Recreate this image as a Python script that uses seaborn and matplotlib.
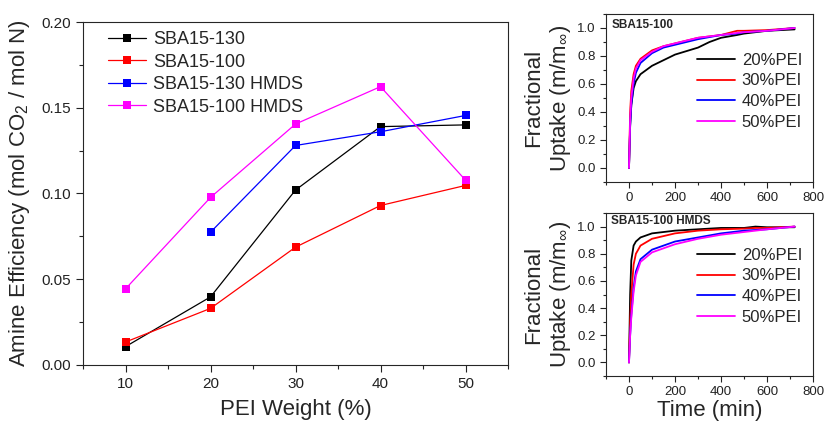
import pandas as pd
import matplotlib
matplotlib.use("Agg")
import matplotlib.pyplot as plt
from matplotlib.ticker import MultipleLocator
import seaborn as sns

# -----------------------------
# Data
# -----------------------------
pei_weight = [10, 20, 30, 40, 50]
sba130 = [0.0107, 0.0397, 0.102, 0.139, 0.140]
sba100 = [0.0134, 0.033, 0.0687, 0.093, 0.1047]
sba130_hmds = [None, 0.0774, 0.128, 0.136, 0.1455]
sba100_hmds = [0.0444, 0.0977, 0.1405, 0.1623, 0.1078]
series_names = ["SBA15-130", "SBA15-100", "SBA15-130 HMDS", "SBA15-100 HMDS"]
series_colors = ["#000000", "#ff0000", "#0000ff", "#ff00ff"]

pei_labels = ["20%PEI", "30%PEI", "40%PEI", "50%PEI"]

# SBA15-100 uptake curves
t_top = [0, 5, 10, 20, 30, 50, 100, 150, 200, 300, 350, 400, 470, 500, 600, 720]
up_top_20 = [0, 0.30, 0.45, 0.57, 0.62, 0.67, 0.73, 0.77, 0.81, 0.86, 0.90, 0.93, 0.95, 0.96, 0.98, 0.99]
up_top_30 = [0, 0.40, 0.55, 0.67, 0.73, 0.78, 0.84, 0.87, 0.89, 0.93, 0.94, 0.95, 0.98, 0.98, 0.985, 1.0]
up_top_40 = [0, 0.30, 0.45, 0.60, 0.68, 0.75, 0.82, 0.86, 0.88, 0.92, 0.935, 0.95, 0.96, 0.97, 0.98, 1.0]
up_top_50 = [0, 0.35, 0.50, 0.64, 0.71, 0.77, 0.83, 0.87, 0.89, 0.93, 0.94, 0.95, 0.965, 0.97, 0.98, 1.0]

# SBA15-100 HMDS uptake curves
t_bot = [0, 5, 10, 20, 30, 50, 100, 200, 300, 400, 500, 550, 600, 720]
up_bot_20 = [0, 0.50, 0.75, 0.86, 0.89, 0.92, 0.95, 0.97, 0.98, 0.99, 0.99, 1.0, 0.995, 0.995]
up_bot_30 = [0, 0.30, 0.50, 0.72, 0.80, 0.86, 0.91, 0.95, 0.97, 0.98, 0.985, 0.99, 0.99, 1.0]
up_bot_40 = [0, 0.20, 0.35, 0.55, 0.67, 0.76, 0.83, 0.89, 0.92, 0.95, 0.97, 0.975, 0.98, 1.0]
up_bot_50 = [0, 0.20, 0.33, 0.52, 0.64, 0.74, 0.81, 0.87, 0.91, 0.94, 0.96, 0.97, 0.98, 1.0]

# -----------------------------
# Style
# -----------------------------
sns.set_style("ticks")
plt.rcParams["font.family"] = ["Liberation Sans", "DejaVu Sans"]
plt.rcParams["mathtext.fontset"] = "custom"
plt.rcParams["mathtext.rm"] = "Liberation Sans"
plt.rcParams["mathtext.it"] = "Liberation Sans"
plt.rcParams["axes.linewidth"] = 0.8
plt.rcParams["xtick.color"] = "#222222"
plt.rcParams["ytick.color"] = "#222222"

fig = plt.figure(figsize=(8.25, 4.21), dpi=100)

# -----------------------------
# Left panel: amine efficiency
# -----------------------------
rows = []
for name, vals in zip(series_names, [sba130, sba100, sba130_hmds, sba100_hmds]):
    for x, v in zip(pei_weight, vals):
        if v is not None:
            rows.append({"pei": x, "eff": v, "sample": name})
eff_df = pd.DataFrame(rows)

ax = fig.add_axes([83 / 825, 56 / 421, 425 / 825, 343 / 421])
sns.lineplot(data=eff_df, x="pei", y="eff", hue="sample", hue_order=series_names,
             palette=series_colors, marker="s", markersize=6, markeredgewidth=0,
             linewidth=0.9, estimator=None, ax=ax, legend=False)
ax.set_xlim(5, 55)
ax.set_ylim(0, 0.2)
ax.xaxis.set_major_locator(MultipleLocator(10))
ax.xaxis.set_minor_locator(MultipleLocator(5))
ax.yaxis.set_major_locator(MultipleLocator(0.05))
ax.yaxis.set_minor_locator(MultipleLocator(0.025))
ax.yaxis.set_major_formatter(plt.FormatStrFormatter("%.2f"))
ax.tick_params(which="major", length=5, width=0.8, labelsize=11)
ax.tick_params(which="minor", length=3, width=0.8)
ax.set_xlabel("PEI Weight (%)", fontsize=16, labelpad=6)
ax.set_ylabel("Amine Efficiency (mol CO$_2$ / mol N)", fontsize=16, labelpad=7)

handles = [plt.Line2D([], [], color=c, marker="s", markersize=6, markeredgewidth=0, linewidth=0.9)
           for c in series_colors]
ax.legend(handles, series_names, loc="upper left", bbox_to_anchor=(0.02, 1.02),
          frameon=False, fontsize=13, handlelength=2.1, handletextpad=0.4,
          labelspacing=0.3)

# -----------------------------
# Right panels: fractional uptake
# -----------------------------
def uptake_panel(rect, t, curves, title, title_y, leg_y, show_xlabel):
    rows = []
    for label, vals in zip(pei_labels, curves):
        for x, v in zip(t, vals):
            rows.append({"t": x, "u": v, "pei": label})
    df = pd.DataFrame(rows)
    a = fig.add_axes(rect)
    sns.lineplot(data=df, x="t", y="u", hue="pei", hue_order=pei_labels,
                 palette=series_colors, linewidth=1.3, estimator=None, ax=a)
    a.set_xlim(-100, 800)
    a.set_ylim(-0.1, 1.1)
    a.xaxis.set_major_locator(MultipleLocator(200))
    a.xaxis.set_minor_locator(MultipleLocator(100))
    a.yaxis.set_major_locator(MultipleLocator(0.2))
    a.yaxis.set_minor_locator(MultipleLocator(0.1))
    a.yaxis.set_major_formatter(plt.FormatStrFormatter("%.1f"))
    a.tick_params(which="major", length=4, width=0.8, labelsize=9.5)
    a.tick_params(which="minor", length=2, width=0.8)
    a.set_ylabel("Fractional\nUptake (m/m$_{\\infty}$)", fontsize=16, linespacing=1.2, labelpad=3)
    a.set_xlabel("Time (min)" if show_xlabel else "", fontsize=16, labelpad=1)
    a.text(0.025, title_y, title, transform=a.transAxes, fontsize=8.5, fontweight="bold",
           va="center", ha="left")
    leg = a.legend(loc="center right", bbox_to_anchor=(1.02, leg_y), frameon=False,
                   fontsize=12, handlelength=2.3, handletextpad=0.4, labelspacing=0.35)
    for line in leg.get_lines():
        line.set_linewidth(1.3)
    return a

uptake_panel([606 / 825, 239 / 421, 207 / 825, 168 / 421], t_top,
             [up_top_20, up_top_30, up_top_40, up_top_50], "SBA15-100", 0.935, 0.54, False)
uptake_panel([606 / 825, 45 / 421, 207 / 825, 163 / 421], t_bot,
             [up_bot_20, up_bot_30, up_bot_40, up_bot_50], "SBA15-100 HMDS", 0.95, 0.55, True)

fig.savefig("out.png", dpi=100)
plt.close(fig)
